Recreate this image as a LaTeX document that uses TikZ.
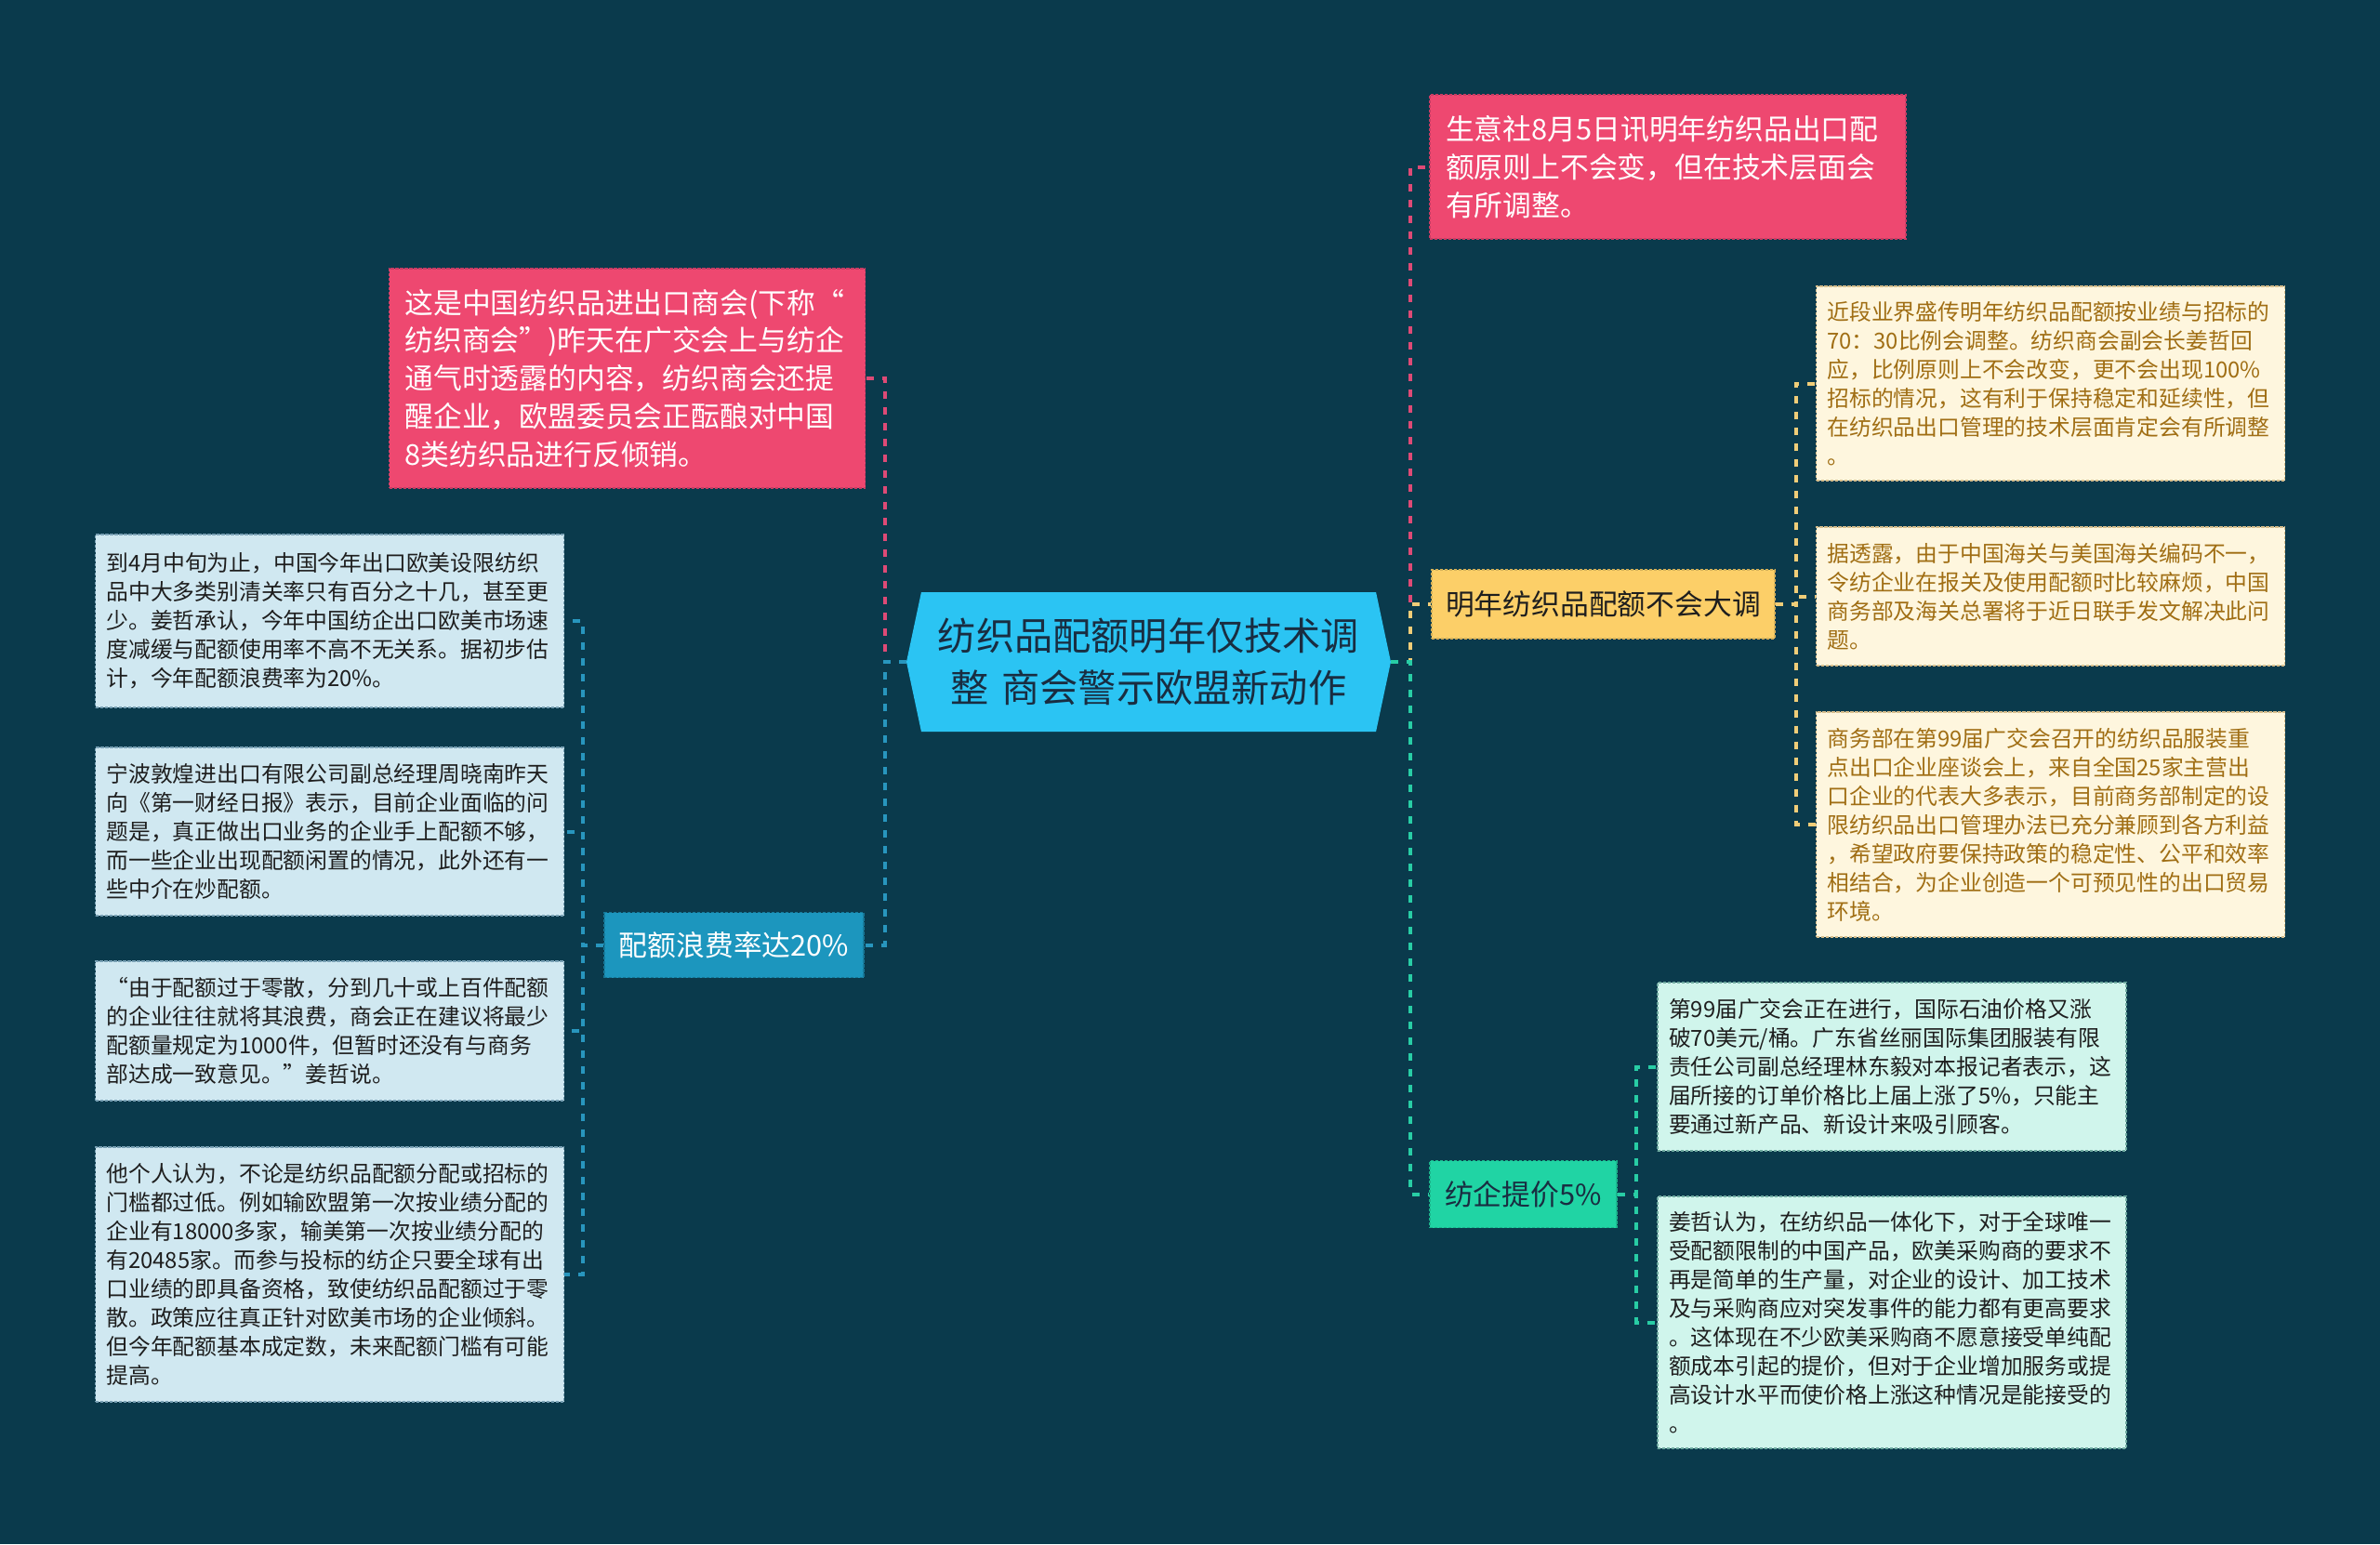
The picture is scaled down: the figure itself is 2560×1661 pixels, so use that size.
\documentclass[tikz,border=0pt]{standalone}
\usepackage{fontspec}
\newfontfamily\cjk{Noto Sans CJK SC}
\usepackage{tikz}
\usetikzlibrary{shapes.symbols}
\definecolor{bgc}{RGB}{10,58,76}
\definecolor{MainFill}{RGB}{43,196,243}
\definecolor{MainText}{RGB}{25,45,65}
\definecolor{PinkFill}{RGB}{238,72,112}
\definecolor{PinkEdge}{RGB}{200,60,100}
\definecolor{PinkLine}{RGB}{222,74,118}
\definecolor{YelFill}{RGB}{252,207,104}
\definecolor{YelLine}{RGB}{240,205,120}
\definecolor{LYelFill}{RGB}{254,246,222}
\definecolor{LYelEdge}{RGB}{215,190,140}
\definecolor{LYelText}{RGB}{160,110,20}
\definecolor{BluFill}{RGB}{28,150,190}
\definecolor{BluLine}{RGB}{40,150,190}
\definecolor{LBluFill}{RGB}{208,232,241}
\definecolor{LBluEdge}{RGB}{120,160,180}
\definecolor{GrnFill}{RGB}{32,212,164}
\definecolor{GrnLine}{RGB}{40,205,165}
\definecolor{LGrnFill}{RGB}{208,245,236}
\definecolor{LGrnEdge}{RGB}{110,170,160}
\definecolor{DarkText}{RGB}{30,30,30}

\begin{document}
\begin{tikzpicture}[x=0.5pt, y=-0.5pt,
    conn/.style={dash pattern=on 4pt off 4.5pt, line width=2pt},
    box/.style={draw, dash pattern=on 1.7pt off 0.8pt, line width=0.6pt, inner ysep=0pt},
    leaf/.style={box, inner xsep=6pt, text width=240pt, align=left, font=\cjk\fontsize{11.9}{15.5}\selectfont},
    bigleaf/.style={box, inner xsep=8.5pt, text width=239pt, align=left, font=\cjk\fontsize{15.4}{20.4}\selectfont},
    topic/.style={box, inner sep=0pt, align=center, font=\cjk\fontsize{15.4}{20.4}\selectfont}]
    % background
    \fill [bgc] (0,0) rectangle (2560,1661);
    % central topic
    \node [signal, signal to=west and east, signal pointer angle=156, fill=MainFill, text=MainText,
           minimum width=260.5pt, minimum height=75pt, inner sep=0pt, text width=232pt, align=center,
           font=\cjk\fontsize{20.6}{27.8}\selectfont] (main) at (1235.5,712)
        {纺织品配额明年仅技术调\\整 商会警示欧盟新动作};
    % left side
    \node [bigleaf, fill=PinkFill, draw=PinkEdge, text=white, minimum height=118pt] (pinkL) at (674.5,407)
        {这是中国纺织品进出口商会(下称“\\纺织商会”)昨天在广交会上与纺企\\通气时透露的内容，纺织商会还提\\醒企业，欧盟委员会正酝酿对中国\\8类纺织品进行反倾销。};
    \node [topic, fill=BluFill, draw=BluFill!80!black, text=white, minimum width=139.5pt, minimum height=35pt] (blu) at (789.5,1016.5)
        {配额浪费率达20\%};
    \node [leaf, fill=LBluFill, draw=LBluEdge, text=DarkText, minimum height=93pt] (lb1) at (354.5,668)
        {到4月中旬为止，中国今年出口欧美设限纺织\\品中大多类别清关率只有百分之十几，甚至更\\少。姜哲承认，今年中国纺企出口欧美市场速\\度减缓与配额使用率不高不无关系。据初步估\\计，今年配额浪费率为20\%。};
    \node [leaf, fill=LBluFill, draw=LBluEdge, text=DarkText, minimum height=90.5pt] (lb2) at (354.5,894.5)
        {宁波敦煌进出口有限公司副总经理周晓南昨天\\向《第一财经日报》表示，目前企业面临的问\\题是，真正做出口业务的企业手上配额不够，\\而一些企业出现配额闲置的情况，此外还有一\\些中介在炒配额。};
    \node [leaf, fill=LBluFill, draw=LBluEdge, text=DarkText, minimum height=75pt] (lb3) at (354.5,1109)
        {“由于配额过于零散，分到几十或上百件配额\\的企业往往就将其浪费，商会正在建议将最少\\配额量规定为1000件，但暂时还没有与商务\\部达成一致意见。”姜哲说。};
    \node [leaf, fill=LBluFill, draw=LBluEdge, text=DarkText, minimum height=137pt] (lb4) at (354.5,1371)
        {他个人认为，不论是纺织品配额分配或招标的\\门槛都过低。例如输欧盟第一次按业绩分配的\\企业有18000多家，输美第一次按业绩分配的\\有20485家。而参与投标的纺企只要全球有出\\口业绩的即具备资格，致使纺织品配额过于零\\散。政策应往真正针对欧美市场的企业倾斜。\\但今年配额基本成定数，未来配额门槛有可能\\提高。};
    % right side
    \node [bigleaf, fill=PinkFill, draw=PinkEdge, text=white, minimum height=77.5pt] (pinkR) at (1794,179.5)
        {生意社8月5日讯明年纺织品出口配\\额原则上不会变，但在技术层面会\\有所调整。};
    \node [topic, fill=YelFill, draw=YelFill!85!black, text=DarkText, minimum width=184.5pt, minimum height=37pt] (yel) at (1724.5,650)
        {明年纺织品配额不会大调};
    \node [leaf, fill=LYelFill, draw=LYelEdge, text=LYelText, minimum height=104.5pt] (ry1) at (2205.5,412.5)
        {近段业界盛传明年纺织品配额按业绩与招标的\\70：30比例会调整。纺织商会副会长姜哲回\\应，比例原则上不会改变，更不会出现100\%\\招标的情况，这有利于保持稳定和延续性，但\\在纺织品出口管理的技术层面肯定会有所调整\\。};
    \node [leaf, fill=LYelFill, draw=LYelEdge, text=LYelText, minimum height=74.5pt] (ry2) at (2205.5,641.5)
        {据透露，由于中国海关与美国海关编码不一，\\令纺企业在报关及使用配额时比较麻烦，中国\\商务部及海关总署将于近日联手发文解决此问\\题。};
    \node [leaf, fill=LYelFill, draw=LYelEdge, text=LYelText, minimum height=121pt] (ry3) at (2205.5,887)
        {商务部在第99届广交会召开的纺织品服装重\\点出口企业座谈会上，来自全国25家主营出\\口企业的代表大多表示，目前商务部制定的设\\限纺织品出口管理办法已充分兼顾到各方利益\\，希望政府要保持政策的稳定性、公平和效率\\相结合，为企业创造一个可预见性的出口贸易\\环境。};
    \node [topic, fill=GrnFill, draw=GrnFill!85!black, text=MainText, minimum width=100.5pt, minimum height=36pt] (grn) at (1638.5,1284.5)
        {纺企提价5\%};
    \node [leaf, fill=LGrnFill, draw=LGrnEdge, text=DarkText, minimum height=90.5pt] (rc1) at (2035,1147.5)
        {第99届广交会正在进行，国际石油价格又涨\\破70美元/桶。广东省丝丽国际集团服装有限\\责任公司副总经理林东毅对本报记者表示，这\\届所接的订单价格比上届上涨了5\%，只能主\\要通过新产品、新设计来吸引顾客。};
    \node [leaf, fill=LGrnFill, draw=LGrnEdge, text=DarkText, minimum height=135.5pt] (rc2) at (2035,1422.5)
        {姜哲认为，在纺织品一体化下，对于全球唯一\\受配额限制的中国产品，欧美采购商的要求不\\再是简单的生产量，对企业的设计、加工技术\\及与采购商应对突发事件的能力都有更高要求\\。这体现在不少欧美采购商不愿意接受单纯配\\额成本引起的提价，但对于企业增加服务或提\\高设计水平而使价格上涨这种情况是能接受的\\。};
    % junctions
    \coordinate (jl) at (952,712);
    \coordinate (jr) at (1517,712);
    \coordinate (jb) at (627,1016.5);
    \coordinate (jy) at (1932,650);
    \coordinate (jg) at (1760,1284.5);
    % connectors
    \draw [conn, PinkLine] (main.west) -- (jl) |- (pinkL.east);
    \draw [conn, BluLine] (main.west) -- (jl) |- (blu.east);
    \draw [conn, PinkLine] (main.east) -- (jr) |- (pinkR.west);
    \draw [conn, YelLine] (main.east) -- (jr) |- (yel.west);
    \draw [conn, GrnLine] (main.east) -- (jr) |- (grn.west);
    \foreach \n in {lb1,lb2,lb3,lb4}
        \draw [conn, BluLine] (blu.west) -- (jb) |- (\n.east);
    \foreach \n in {ry1,ry2,ry3}
        \draw [conn, YelLine] (yel.east) -- (jy) |- (\n.west);
    \foreach \n in {rc1,rc2}
        \draw [conn, GrnLine] (grn.east) -- (jg) |- (\n.west);
\end{tikzpicture}
\end{document}
